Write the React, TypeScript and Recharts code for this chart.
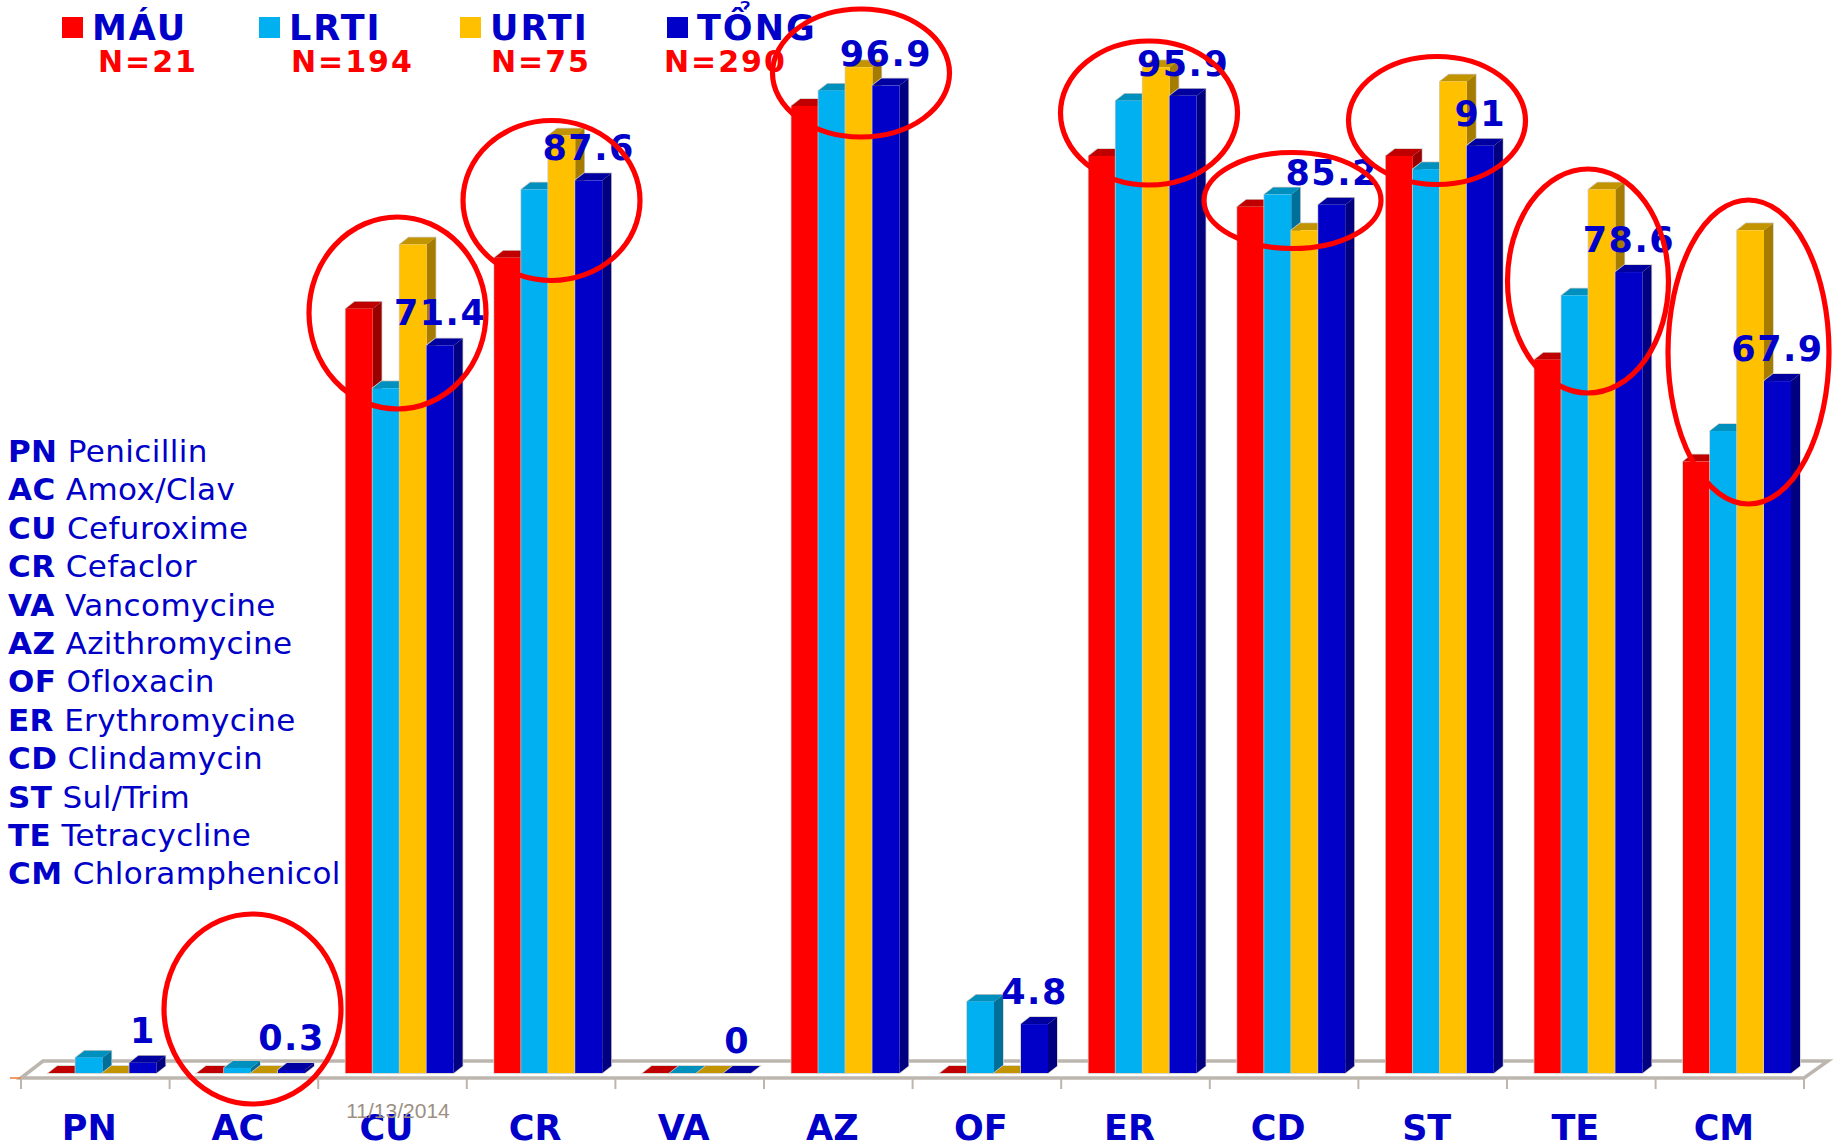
import React from 'react';
import { BarChart, Bar, XAxis, YAxis, LabelList } from 'recharts';

const CATEGORIES = ['PN', 'AC', 'CU', 'CR', 'VA', 'AZ', 'OF', 'ER', 'CD', 'ST', 'TE', 'CM'];
const MAU = [0, 0, 75, 80, 0, 94.9, 0, 90, 85, 90, 70, 60];
const LRTI = [1.5, 0.5, 67.2, 86.7, 0, 96.4, 7, 95.4, 86.2, 88.7, 76.3, 63];
const URTI = [0, 0, 81.3, 92, 0, 98.7, 0, 98.7, 82.7, 97.3, 86.7, 82.7];
const TONG = [1, 0.3, 71.4, 87.6, 0, 96.9, 4.8, 95.9, 85.2, 91, 78.6, 67.9];

const tableData = CATEGORIES.map((name, i) => ({
  name,
  mau: MAU[i],
  lrti: LRTI[i],
  urti: URTI[i],
  tong: TONG[i],
}));

const LEGEND_ENTRIES = [
  { label: 'MÁU', count: 'N=21', color: '#FF0000', boxX: 62, labelX: 92, countX: 98 },
  { label: 'LRTI', count: 'N=194', color: '#00B0F0', boxX: 259, labelX: 289, countX: 291 },
  { label: 'URTI', count: 'N=75', color: '#FFC000', boxX: 460, labelX: 490, countX: 491 },
  { label: 'TỔNG', count: 'N=290', color: '#0000C8', boxX: 667, labelX: 697, countX: 664 },
];

const GLOSSARY = [
  ['PN', 'Penicillin'],
  ['AC', 'Amox/Clav'],
  ['CU', 'Cefuroxime'],
  ['CR', 'Cefaclor'],
  ['VA', 'Vancomycine'],
  ['AZ', 'Azithromycine'],
  ['OF', 'Ofloxacin'],
  ['ER', 'Erythromycine'],
  ['CD', 'Clindamycin'],
  ['ST', 'Sul/Trim'],
  ['TE', 'Tetracycline'],
  ['CM', 'Chloramphenicol'],
];

// Hand-drawn rings around the categories being discussed
const RINGS = [
  { cx: 252.5, cy: 1009, rx: 88.5, ry: 95 },
  { cx: 397.5, cy: 313, rx: 88.5, ry: 96 },
  { cx: 551.5, cy: 200.5, rx: 88.5, ry: 80 },
  { cx: 861, cy: 73, rx: 88.5, ry: 64 },
  { cx: 1149, cy: 113, rx: 88.5, ry: 72 },
  { cx: 1292.5, cy: 200.5, rx: 88.5, ry: 48 },
  { cx: 1437, cy: 120.5, rx: 88.5, ry: 64 },
  { cx: 1588, cy: 281, rx: 80.5, ry: 112 },
  { cx: 1748.5, cy: 352, rx: 80.5, ry: 152 },
];

const WIDTH = 1836;
const HEIGHT = 1145;
const PLOT_LEFT = 28.3;
const PLOT_WIDTH = 1783.2;
const PLOT_TOP = 54;
const PLOT_BOTTOM = 1073;

const BLUE = '#0000C8';
const FONT = '"DejaVu Sans", sans-serif';
const FLOOR = '#BDB6AE';
const DEPTH_X = 9;
const DEPTH_Y = 7;

// Fake 3D column: front face plus top and side faces in darker shades, with a faint grey edge
const Column3D = (props: any) => {
  const { x, y, width, height, fill, topFill, sideFill } = props;
  const right = x + width;
  const bottom = y + height;
  return (
    <g>
      <path
        d={`M${x} ${bottom}L${x} ${y}L${x + DEPTH_X} ${y - DEPTH_Y}L${right + DEPTH_X} ${y - DEPTH_Y}L${right + DEPTH_X} ${bottom - DEPTH_Y}L${right} ${bottom}Z`}
        fill="none"
        stroke="#CFCBC6"
        strokeWidth={1.5}
      />
      <path
        d={`M${x} ${y}L${x + DEPTH_X} ${y - DEPTH_Y}L${right + DEPTH_X} ${y - DEPTH_Y}L${right} ${y}Z`}
        fill={topFill}
      />
      <path
        d={`M${right} ${y}L${right + DEPTH_X} ${y - DEPTH_Y}L${right + DEPTH_X} ${bottom - DEPTH_Y}L${right} ${bottom}Z`}
        fill={sideFill}
      />
      <rect x={x} y={y} width={width} height={height} fill={fill} />
    </g>
  );
};

const CategoryTick = (props: any) => {
  const { x, y, payload } = props;
  return (
    <text x={x - 13.3} y={y + 67} textAnchor="middle" fontFamily={FONT} fontWeight="bold" fontSize={35} fill={BLUE}>
      {payload.value}
    </text>
  );
};

const floorTicks = CATEGORIES.map((_, i) => 21 + i * 148.6);

const App: React.FC = () => {
  return (
    <div style={{ position: 'absolute', left: 0, top: 0, width: WIDTH, height: HEIGHT, overflow: 'hidden', background: '#fff' }}>
      {/* floor of the 3D plot, sits behind the columns */}
      <svg width={WIDTH} height={HEIGHT} style={{ position: 'absolute', left: 0, top: 0 }}>
        <path d="M21 1078L43 1061L1828 1061L1804 1078Z" fill="#fff" stroke={FLOOR} strokeWidth={3.5} />
        {floorTicks.concat(1804).map((x) => (
          <line key={x} x1={x} x2={x} y1={1078} y2={1089} stroke={FLOOR} strokeWidth={2} />
        ))}
        <line x1={10} x2={21} y1={1078} y2={1078} stroke="#EE7B30" strokeWidth={1.5} />
      </svg>

      <div style={{ position: 'absolute', left: 0, top: 0 }}>
        <BarChart
          width={WIDTH}
          height={HEIGHT}
          data={tableData}
          margin={{ top: PLOT_TOP, bottom: 0, left: PLOT_LEFT, right: WIDTH - PLOT_LEFT - PLOT_WIDTH }}
          barCategoryGap={20.1}
          barGap={0}
        >
          <XAxis dataKey="name" axisLine={false} tickLine={false} tickSize={0} tickMargin={0} height={HEIGHT - PLOT_BOTTOM} interval={0} tick={<CategoryTick />} />
          <YAxis hide domain={[0, 100]} />
          <Bar dataKey="mau" fill="#FF0000" isAnimationActive={false} shape={<Column3D topFill="#C00000" sideFill="#990000" />} />
          <Bar dataKey="lrti" fill="#00B0F0" isAnimationActive={false} shape={<Column3D topFill="#0090BE" sideFill="#00709A" />} />
          <Bar dataKey="urti" fill="#FFC000" isAnimationActive={false} shape={<Column3D topFill="#C29400" sideFill="#A67C00" />} />
          <Bar dataKey="tong" fill={BLUE} isAnimationActive={false} shape={<Column3D topFill="#0000A0" sideFill="#000080" />}>
            <LabelList dataKey="tong" position="top" offset={20} fontFamily={FONT} fontWeight="bold" fontSize={35} letterSpacing={1.5} fill={BLUE} />
          </Bar>
        </BarChart>
      </div>

      {/* legend, abbreviation list, date stamp and rings drawn over everything */}
      <svg width={WIDTH} height={HEIGHT} style={{ position: 'absolute', left: 0, top: 0 }}>
        <text x={398} y={1118} textAnchor="middle" fontFamily='"Liberation Sans", sans-serif' fontSize={21} fill="#9C8F82">
          11/13/2014
        </text>
        {LEGEND_ENTRIES.map((entry) => (
          <g key={entry.label} fontFamily={FONT} fontWeight="bold">
            <rect x={entry.boxX} y={17} width={21} height={21} fill={entry.color} />
            <text x={entry.labelX} y={40} fontSize={35} letterSpacing={2} fill={BLUE}>{entry.label}</text>
            <text x={entry.countX} y={72} fontSize={30} letterSpacing={2} fill="#FF0000">{entry.count}</text>
          </g>
        ))}
        {GLOSSARY.map(([code, name], i) => (
          <text key={code} x={8} y={462 + i * 38.4} fontFamily={FONT} fontSize={31} letterSpacing={0.4} fill={BLUE}>
            <tspan fontWeight="bold">{code}</tspan> {name}
          </text>
        ))}
        {RINGS.map((ring) => (
          <ellipse key={ring.cx} {...ring} fill="none" stroke="#FF0000" strokeWidth={5.2} />
        ))}
      </svg>
    </div>
  );
};

export default App;
